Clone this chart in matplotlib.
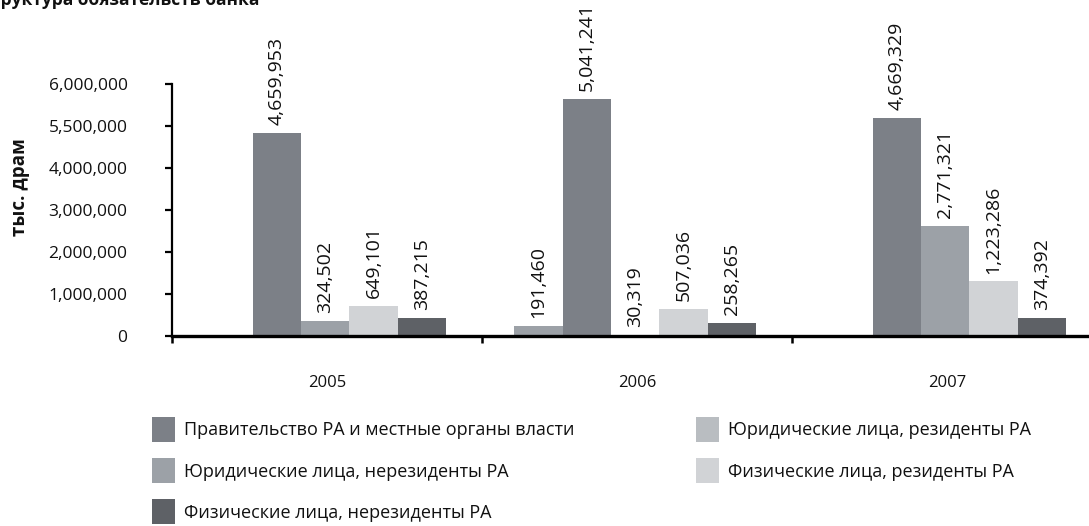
import matplotlib
matplotlib.use("Agg")
import matplotlib.pyplot as plt
from matplotlib.patches import Patch

plt.rcParams['font.family'] = ['Open Sans', 'DejaVu Sans']

# ---- data ----
years = ['2005', '2006', '2007']
legend_names = [
    'Правительство РА и местные органы власти',
    'Юридические лица, резиденты РА',
    'Юридические лица, нерезиденты РА',
    'Физические лица, резиденты РА',
    'Физические лица, нерезиденты РА',
]
legend_colors = ['#7c8087', '#b9bdc1', '#9ca1a7', '#d1d3d6', '#5e6166']

# bar heights as drawn (in axis units) and the value labels printed above them
slot1_heights = [0, 245000, 0]
slot1_labels = ['', '191,460', '']
slot2_heights = [4840000, 5640000, 5200000]
slot2_labels = ['4,659,953', '5,041,241', '4,669,329']
slot3_heights = [364000, 30000, 2630000]
slot3_labels = ['324,502', '30,319', '2,771,321']
slot4_heights = [714000, 643000, 1300000]
slot4_labels = ['649,101', '507,036', '1,223,286']
slot5_heights = [436000, 317000, 436000]
slot5_labels = ['387,215', '258,265', '374,392']

slot_colors = ['#9ca1a7', '#7c8087', '#9ca1a7', '#d1d3d6', '#5e6166']

ytick_values = [0, 1000000, 2000000, 3000000, 4000000, 5000000, 6000000]
ytick_labels = ['0', '1,000,000', '2,000,000', '3,000,000', '4,000,000',
                '5,500,000', '6,000,000']

title_text = 'Структура обязательств банка'
ylabel_text = 'тыс. драм'

# ---- figure ----
W, H = 1089, 526
fig = plt.figure(figsize=(W / 100, H / 100), dpi=100)

def px(x, y):
    return x / W, 1 - y / H

ax_left, ax_right, ax_top, ax_bottom = 172, 1102, 84, 336
ax = fig.add_axes([ax_left / W, 1 - ax_bottom / H,
                   (ax_right - ax_left) / W, (ax_bottom - ax_top) / H])

heights = [slot1_heights, slot2_heights, slot3_heights, slot4_heights, slot5_heights]
labels = [slot1_labels, slot2_labels, slot3_labels, slot4_labels, slot5_labels]
bw = 0.156
for s in range(5):
    xs = [g + (s - 2) * bw - 0.006 for g in range(len(years))]
    ax.bar(xs, heights[s], width=bw, color=slot_colors[s], linewidth=0, zorder=2)
    for x, h, lab in zip(xs, heights[s], labels[s]):
        if lab:
            ax.annotate(lab, (x, h), xytext=(0, 5.5), textcoords='offset points',
                        rotation=90, ha='center', va='bottom', fontsize=14,
                        color='#111111')

ax.set_xlim(-0.5, 2.5)
ax.set_ylim(0, 6000000)

for sp in ['top', 'right']:
    ax.spines[sp].set_visible(False)
ax.spines['left'].set_linewidth(1.6)
ax.spines['bottom'].set_linewidth(2.4)
ax.spines['bottom'].set_zorder(3)

ax.set_yticks(ytick_values)
ax.set_yticklabels(ytick_labels)
ax.tick_params(axis='y', direction='out', length=5, width=1.6, pad=27,
               labelsize=12.5, labelcolor='#111111')

ax.set_xticks([-0.5, 0.5, 1.5])
ax.set_xticklabels(['', '', ''])
ax.tick_params(axis='x', which='major', direction='out', length=5, width=1.8)
ax.set_xticks(range(len(years)), minor=True)
ax.set_xticklabels(years, minor=True)
ax.tick_params(axis='x', which='minor', length=0, pad=28, labelsize=12,
               labelcolor='#111111')

# y label
fig.text(*px(20, 187), ylabel_text, rotation=90, ha='center', va='center',
         fontsize=13.5, fontweight='bold', color='#111111')

# cropped title at top
fig.text(*px(-20, 5), title_text, ha='left', va='baseline',
         fontsize=12.5, fontweight='bold', color='#111111')

# legend: two columns
handles = [Patch(facecolor=c, edgecolor='none') for c in legend_colors]
col1 = [0, 2, 4]
col2 = [1, 3]
common = dict(frameon=False, fontsize=13, handlelength=1.3, handleheight=1.75,
              handletextpad=0.45, labelspacing=0.9, borderpad=0, borderaxespad=0,
              loc='upper left', labelcolor='#111111')
leg1 = fig.legend([handles[i] for i in col1], [legend_names[i] for i in col1],
                  bbox_to_anchor=px(152, 417), **common)
leg2 = fig.legend([handles[i] for i in col2], [legend_names[i] for i in col2],
                  bbox_to_anchor=px(696, 417), **common)

fig.savefig('out.png', dpi=100)
